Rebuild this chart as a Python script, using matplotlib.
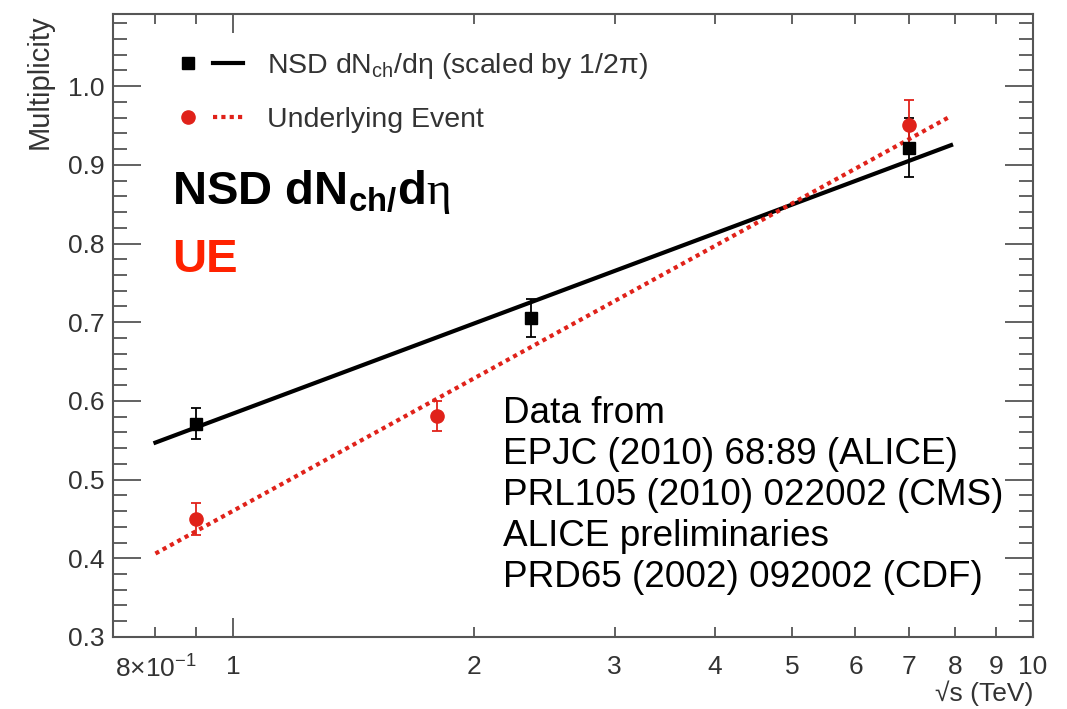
import matplotlib
matplotlib.use("Agg")
import matplotlib.pyplot as plt
from matplotlib.lines import Line2D
from matplotlib.legend_handler import HandlerTuple

plt.rcParams['font.family'] = ['Liberation Sans', 'DejaVu Sans']
plt.rcParams['mathtext.fontset'] = 'custom'
plt.rcParams['mathtext.rm'] = 'Liberation Sans'
plt.rcParams['mathtext.it'] = 'Liberation Sans:italic'
plt.rcParams['mathtext.bf'] = 'Liberation Sans:bold'
plt.rcParams['mathtext.sf'] = 'Liberation Serif'

# charged-particle multiplicity vs sqrt(s) [TeV]
nsd_energy = [0.9, 2.36, 7.0]
nsd_mult = [0.571, 0.705, 0.922]
nsd_err = [0.020, 0.024, 0.038]

ue_energy = [0.9, 1.8, 7.0]
ue_mult = [0.450, 0.581, 0.951]
ue_err = [0.020, 0.019, 0.032]

# fitted trends (linear in log sqrt(s)), at the ends of the fit range
fit_energy = [0.8, 7.9]
nsd_fit = [0.547, 0.925]
ue_fit = [0.406, 0.962]

x_major = [1, 10]
x_major_labels = ['1', '10']
x_minor = [0.8, 0.9, 2, 3, 4, 5, 6, 7, 8, 9]
x_minor_labels = [r'8$\times$10$^{-1}$', '', '2', '3', '4', '5', '6', '7', '8', '9']
y_major = [0.3, 0.4, 0.5, 0.6, 0.7, 0.8, 0.9, 1.0]

refs = ['Data from',
        'EPJC (2010) 68:89 (ALICE)',
        'PRL105 (2010) 022002 (CMS)',
        'ALICE preliminaries',
        'PRD65 (2002) 092002 (CDF)']

frame = '#555555'
ink = '#333333'
red = '#e0221a'

fig = plt.figure(figsize=(10.67, 7.09), dpi=100)
ax = fig.add_axes([0.1059, 0.1016, 0.8622, 0.8787])

ax.plot(fit_energy, nsd_fit, color='black', lw=3)
ax.plot(fit_energy, ue_fit, color=red, lw=3, linestyle=(0, (1, 1)))
ax.errorbar(nsd_energy, nsd_mult, yerr=nsd_err, fmt='s', color='black',
            ms=9, elinewidth=1.3, capsize=3.5, capthick=1.3)
ax.errorbar(ue_energy, ue_mult, yerr=ue_err, fmt='o', color=red,
            ms=9.5, elinewidth=1.3, capsize=3.5, capthick=1.3)

ax.set_xscale('log')
ax.set_xlim(0.708, 10)
ax.set_ylim(0.3, 1.0917)

ax.set_xticks(x_major, x_major_labels)
ax.set_xticks(x_minor, x_minor_labels, minor=True)
ax.set_yticks(y_major, [f'{v:.1f}' for v in y_major])
ax.yaxis.set_minor_locator(matplotlib.ticker.MultipleLocator(0.02))

for side in ax.spines.values():
    side.set_color(frame)
    side.set_linewidth(1.5)

ax.tick_params(which='both', direction='in', top=True, right=True,
               color=frame, width=1.3, labelcolor=ink, labelsize=19)
ax.tick_params(axis='y', which='major', length=20, pad=6)
ax.tick_params(axis='y', which='minor', length=10)
ax.tick_params(axis='x', which='major', length=14, pad=13)
ax.tick_params(axis='x', which='minor', length=7, pad=13)

ax.set_ylabel('Multiplicity', loc='top', fontsize=21, color=ink)
ax.yaxis.set_label_coords(-0.064, 1.0)
ax.set_xlabel('√s (TeV)', loc='right', fontsize=19, color=ink)
ax.xaxis.set_label_coords(1.0, -0.069)

nsd_key = (Line2D([], [], marker='s', ms=9, color='black', ls='none'),
           Line2D([], [], color='black', lw=3))
ue_key = (Line2D([], [], marker='o', ms=9.5, color=red, ls='none'),
          Line2D([], [], color=red, lw=3, linestyle=(0, (1, 1))))
leg = ax.legend([nsd_key, ue_key],
                [r'NSD dN$_{\mathregular{ch}}$/dη (scaled by 1/2π)', 'Underlying Event'],
                handler_map={tuple: HandlerTuple(ndivide=None, pad=0.35)},
                loc='upper left', bbox_to_anchor=(0.065, 0.940), frameon=False,
                borderpad=0, borderaxespad=0, fontsize=20.5,
                handlelength=2.46, handletextpad=0.84, labelspacing=0.89)
for txt in leg.get_texts():
    txt.set_color(ink)

ax.text(0.064, 0.695, r'NSD dN$_{\mathbf{ch/}}$d$\mathsf{\eta}$', transform=ax.transAxes,
        fontsize=34, fontweight='bold', color='black', va='baseline')
ax.text(0.064, 0.586, 'UE', transform=ax.transAxes,
        fontsize=34, fontweight='bold', color='#ff2200', va='baseline')

ax.text(0.424, 0.387, '\n'.join(refs), transform=ax.transAxes,
        fontsize=26.6, color='black', va='top', linespacing=1.22)

fig.savefig('out.png', dpi=100)
